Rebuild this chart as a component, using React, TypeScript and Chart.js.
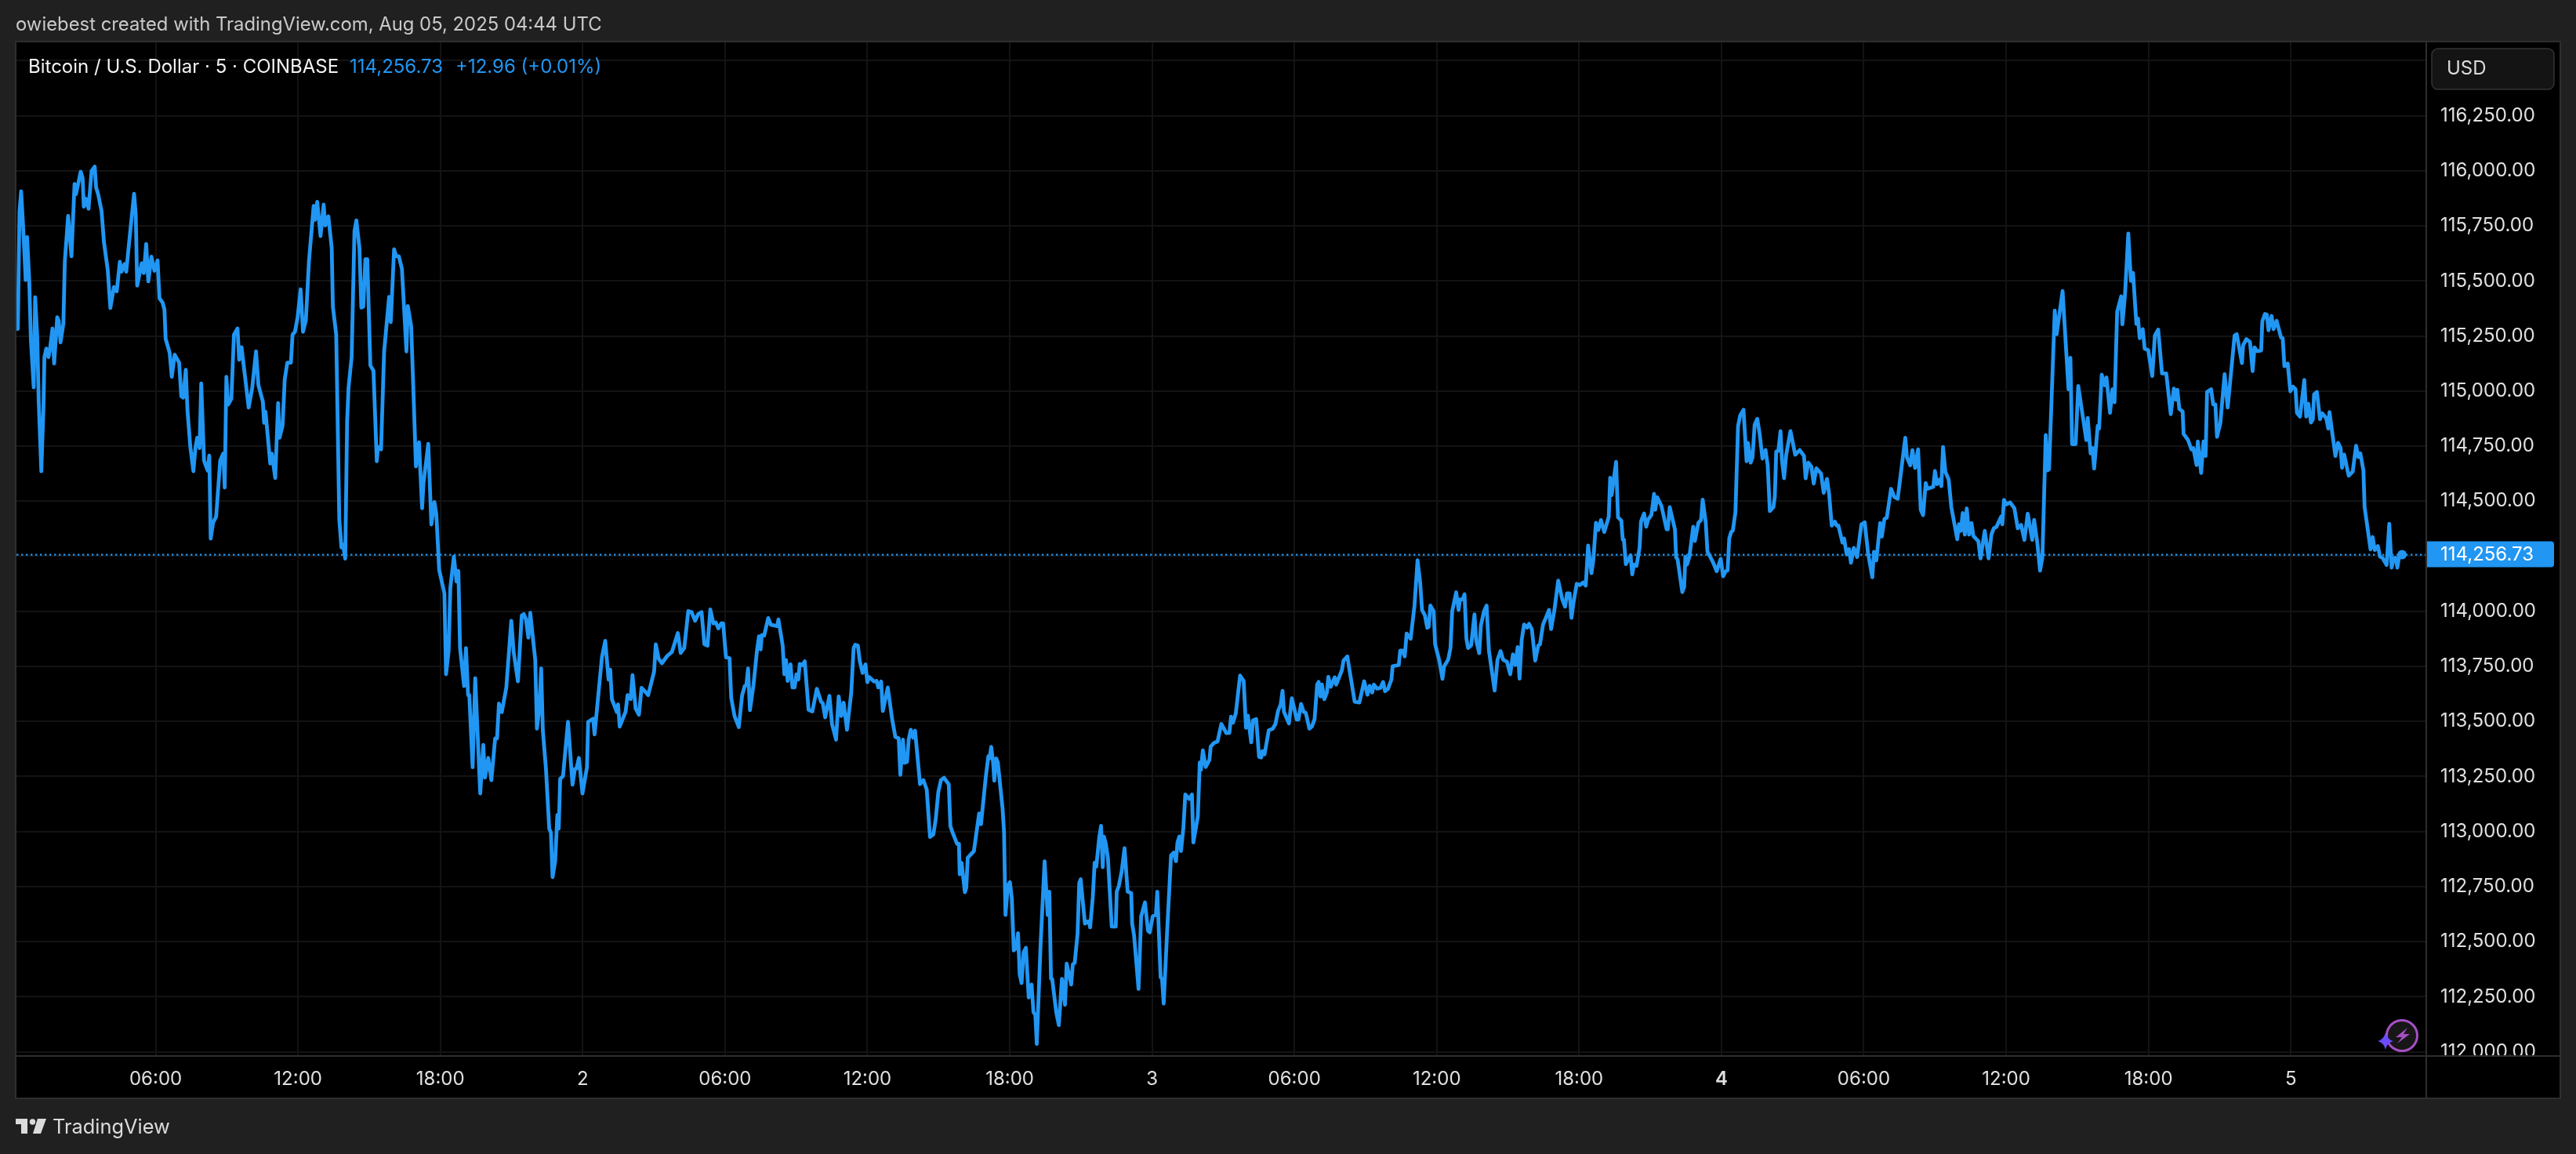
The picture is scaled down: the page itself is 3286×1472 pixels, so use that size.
import React, { useEffect, useRef } from "react";
import { Chart, registerables } from "chart.js";

Chart.register(...registerables);

// Time is hours since Aug 1 00:00 UTC; prices are USD.
const hoursA = [
  0.19,0.26,0.33,0.41,0.52,0.58,0.67,0.74,0.86,0.92,
  1.01,1.07,1.18,1.27,1.31,1.39,1.48,1.54,1.65,1.72,
  1.85,1.91,1.99,2.11,2.17,2.31,2.45,2.58,2.64,2.84,
  2.92,2.97,3.06,3.17,3.30,3.43,3.49,3.58,3.72,3.82,
  3.98,4.09,4.24,4.36,4.49,4.56,4.69,4.76,4.93,5.09,
  5.16,5.22,5.41,5.50,5.60,5.69,5.82,5.95,6.08,6.16,
  6.29,6.37,6.42,6.59,6.68,6.80,6.99,7.08,7.16,7.27,
  7.34,7.46,7.59,7.68,7.75,7.85,7.92,8.04,8.19,8.26,
  8.32,8.42,8.55,8.72,8.85,8.91,8.98,9.05,9.19,9.30,
  9.45,9.52,9.62,9.92,10.07,10.23,10.33,10.52,10.57,10.63,
  10.83,10.90,11.04,11.16,11.22,11.35,11.44,11.55,11.70,11.77,
  11.87,11.98,12.11,12.21,12.33,12.46,12.66,12.72,12.81,12.95,
  13.08,13.15,13.28,13.42,13.47,13.61,13.74,13.83,13.90,13.99,
  14.07,14.13,14.26,14.38,14.46,14.59,14.67,14.75,14.84,14.92,
  15.05,15.18,15.32,15.37,15.50,15.63,15.84,15.91,16.05,16.14,
  16.25,16.38,16.57,16.63,16.77,16.86,16.97,17.10,17.23,17.29,
  17.49,17.62,17.75,17.83,17.95,
];
const pricesA = [
  115282,115816,115907,115752,115504,115699,115504,115231,115017,115426,
  115243,114951,114636,114925,115154,115193,115154,115186,115284,115125,
  115335,115320,115221,115307,115587,115795,115612,115940,115894,115996,
  115968,115837,115873,115828,116000,116019,115924,115892,115816,115676,
  115549,115377,115472,115453,115587,115542,115577,115542,115727,115896,
  115803,115479,115580,115536,115668,115498,115610,115546,115593,115421,
  115402,115370,115237,115173,115065,115165,115129,114976,114970,115097,
  114913,114747,114636,114747,114788,114741,115034,114684,114639,114707,
  114330,114402,114430,114684,114716,114562,115065,114938,114964,115256,
  115284,115142,115199,114925,115015,115180,115027,114951,114856,114906,
  114671,114716,114605,114945,114788,114843,115053,115129,115129,115256,
  115269,115332,115462,115269,115320,115587,115841,115778,115859,115704,
  115847,115752,115793,115650,115383,115256,114417,114290,114302,114239,
  114862,115015,115154,115727,115775,115650,115379,115383,115599,115599,
  115116,115093,114681,114747,114735,115180,115428,115313,115644,115612,
  115612,115555,115180,115386,115294,115015,114658,114767,114468,114582,
  114760,114394,114496,114442,114188,
];

const hoursB = [
  18.17,18.24,18.35,18.42,18.57,18.68,18.76,18.83,19.00,19.08,
  19.17,19.22,19.36,19.47,19.68,19.81,19.88,20.02,20.15,20.31,
  20.39,20.47,20.59,20.78,20.99,21.09,21.27,21.43,21.52,21.61,
  21.71,21.79,22.00,22.07,22.17,22.25,22.32,22.45,22.59,22.66,
  22.73,22.84,22.93,22.99,23.05,23.17,23.38,23.57,23.67,23.74,
  23.84,23.99,24.18,24.23,24.44,24.50,24.81,24.95,25.09,25.16,
  25.23,25.44,25.49,25.56,25.81,25.89,26.02,26.10,26.23,26.37,
  26.48,26.62,26.76,27.01,27.08,27.20,27.34,27.56,27.76,28.01,
  28.13,28.28,28.45,28.59,28.74,28.87,29.01,29.13,29.26,29.38,
  29.51,29.61,29.72,29.84,29.92,30.04,30.19,30.26,30.40,30.58,
  30.72,30.83,30.90,30.97,31.05,31.20,31.34,31.43,31.50,31.55,
  31.65,31.82,31.93,32.20,32.25,32.43,32.50,32.57,32.64,32.76,
  32.84,32.93,33.01,33.09,33.15,33.26,33.36,33.52,33.68,33.87,
  34.05,34.12,34.22,34.40,34.51,34.68,34.79,34.90,35.00,35.14,
  35.32,35.42,35.49,35.60,35.68,35.80,35.92,36.00,36.07,36.28,
  36.39,36.46,36.58,36.65,36.86,37.04,37.18,37.32,37.39,37.50,
  37.57,37.67,37.74,37.83,37.93,38.01,38.22,38.36,38.50,38.64,
  38.78,38.88,38.99,39.10,
];
const pricesB = [
  114082,113714,113821,114106,114248,114135,114183,113833,113660,113833,
  113619,113619,113292,113696,113173,113393,113245,113334,113233,113423,
  113423,113581,113542,113654,113957,113815,113682,113981,113987,113963,
  113880,113993,113779,113467,113559,113740,113458,113286,113013,112995,
  112793,112865,113075,113013,113239,113251,113498,113213,113284,113286,
  113334,113173,113292,113498,113512,113441,113791,113866,113690,113735,
  113601,113542,113577,113476,113545,113619,113601,113710,113559,113530,
  113652,113637,113619,113726,113850,113785,113764,113797,113815,113901,
  113811,113833,114001,113996,113957,113987,113996,113850,113844,114008,
  113945,113949,113922,113945,113945,113791,113787,113607,113524,113474,
  113619,113660,113666,113740,113551,113666,113815,113886,113827,113892,
  113890,113969,113939,113933,113963,113844,113714,113779,113684,113759,
  113654,113654,113714,113690,113761,113755,113773,113553,113545,113648,
  113589,113583,113518,113616,113488,113417,113613,113524,113585,113462,
  113631,113833,113848,113844,113773,113720,113759,113678,113702,113681,
  113684,113654,113681,113547,113654,113512,113429,113423,113257,113417,
  113312,113316,113417,113462,113426,113458,113215,113233,113191,112975,
  112987,113055,113179,113233,
];

const hoursC = [
  39.23,39.43,39.50,39.61,39.78,39.86,39.89,39.97,40.11,40.17,
  40.23,40.38,40.49,40.71,40.79,40.99,41.10,41.15,41.22,41.30,
  41.35,41.43,41.50,41.70,41.76,41.82,41.92,42.01,42.09,42.17,
  42.28,42.35,42.42,42.50,42.58,42.68,42.80,42.92,43.00,43.08,
  43.14,43.30,43.47,43.60,43.67,43.74,43.79,43.96,44.07,44.20,
  44.33,44.40,44.59,44.66,44.74,44.86,44.93,44.99,45.17,45.28,
  45.33,45.39,45.50,45.58,45.65,45.77,45.85,45.92,45.97,46.05,
  46.14,46.30,46.47,46.51,46.60,46.72,46.84,46.97,47.12,47.16,
  47.24,47.43,47.54,47.70,47.83,47.90,48.03,48.16,48.22,48.36,
  48.42,48.49,48.63,48.80,48.91,49.01,49.07,49.15,49.22,49.32,
  49.40,49.57,49.68,49.74,49.93,50.01,50.06,50.14,50.26,50.42,
  50.47,50.61,50.76,50.92,51.13,51.26,51.33,51.41,51.53,51.71,
  51.86,51.96,52.04,52.10,52.18,52.25,52.39,52.51,52.60,52.65,
  52.74,52.92,53.09,53.20,53.31,53.42,53.50,53.56,53.77,53.89,
  54.10,54.17,54.28,54.39,54.48,54.63,54.74,54.85,54.96,
];
const pricesC = [
  113244,113214,113023,112990,112944,112944,112806,112858,112724,112746,
  112881,112898,112911,113082,113033,113247,113342,113332,113384,113313,
  113231,113332,113313,113102,112997,112621,112753,112770,112694,112460,
  112472,112538,112351,112312,112450,112472,112246,112305,112180,112167,
  112035,112483,112865,112621,112727,112331,112331,112180,112121,112331,
  112213,112400,112305,112397,112404,112536,112766,112783,112582,112591,
  112591,112565,112700,112858,112841,112970,113026,112838,112977,112944,
  112878,112568,112568,112727,112753,112819,112924,112727,112720,112582,
  112529,112285,112615,112678,112549,112542,112615,112621,112727,112338,
  112331,112219,112536,112891,112904,112865,112950,112977,112911,113016,
  113168,113148,113168,112950,113069,113313,113280,113368,113293,113326,
  113385,113402,113409,113488,113447,113448,113521,113494,113537,113708,
  113684,113471,113526,113471,113405,113504,113510,113339,113336,113365,
  113350,113460,113467,113488,113547,113576,113639,113543,113491,113605,
  113508,113508,113579,113543,113539,113467,113477,113510,113668,
];

const hoursD = [
  55.02,55.10,55.16,55.26,55.37,55.43,55.53,55.70,55.76,56.00,
  56.07,56.23,56.54,56.74,56.94,57.08,57.17,57.28,57.35,57.48,
  57.62,57.74,57.82,57.95,58.09,58.14,58.40,58.46,58.56,58.65,
  58.73,58.90,59.06,59.19,59.30,59.38,59.50,59.60,59.66,59.73,
  59.87,59.93,60.11,60.24,60.31,60.48,60.58,60.65,60.82,60.92,
  60.98,61.09,61.17,61.25,61.32,61.45,61.59,61.66,61.79,61.86,
  61.99,62.10,62.20,62.44,62.56,62.69,62.80,62.96,63.10,63.21,
  63.31,63.41,63.49,63.58,63.68,63.81,63.89,64.01,64.15,64.28,
  64.35,64.48,64.62,64.73,64.82,64.96,65.12,65.29,65.41,65.49,
  65.60,65.68,65.76,65.90,66.03,66.17,66.28,66.38,66.52,66.60,
  66.71,66.81,66.92,67.06,67.25,
];
const pricesD = [
  113679,113613,113667,113601,113631,113702,113657,113700,113667,113732,
  113776,113795,113589,113586,113682,113621,113661,113631,113667,113649,
  113651,113679,113637,113649,113690,113750,113756,113821,113821,113795,
  113899,113875,114024,114232,114131,114006,113982,113925,113929,114026,
  114000,113851,113774,113693,113750,113780,113833,114000,114086,114006,
  114054,114054,114077,113875,113833,113845,113986,113869,113810,113935,
  114000,114026,113821,113640,113780,113819,113780,113771,113714,113804,
  113756,113837,113694,113869,113940,113926,113943,113917,113776,113845,
  113849,113940,113976,114006,113919,114006,114139,114054,114021,114081,
  114081,113970,114036,114125,114119,114131,114117,114298,114173,114232,
  114402,114369,114414,114360,114429,
];

const hoursE = [
  67.31,67.37,67.56,67.64,67.78,67.84,67.89,67.97,68.17,68.24,
  68.31,68.42,68.55,68.61,68.74,68.83,68.91,69.05,69.16,69.21,
  69.29,69.47,69.69,69.74,69.82,70.04,70.09,70.15,70.35,70.43,
  70.48,70.55,70.65,70.81,70.88,71.03,71.14,71.21,71.34,71.41,
  71.64,71.80,71.97,72.07,72.18,72.26,72.33,72.41,72.48,72.59,
  72.70,72.79,72.93,73.06,73.12,73.23,73.31,73.40,73.51,73.61,
  73.73,73.86,73.95,74.04,74.19,74.25,74.31,74.40,74.49,74.55,
  74.64,74.73,74.91,75.11,75.30,
];
const pricesE = [
  114606,114527,114678,114426,114412,114325,114325,114214,114254,114168,
  114212,114206,114289,114408,114444,114384,114416,114438,114533,114461,
  114518,114479,114372,114372,114473,114372,114245,114236,114087,114111,
  114248,114212,114248,114384,114319,114402,114414,114507,114402,114271,
  114224,114182,114238,114159,114182,114186,114331,114360,114366,114450,
  114841,114889,114915,114681,114764,114675,114699,114847,114874,114806,
  114693,114732,114663,114455,114473,114521,114725,114729,114818,114687,
  114604,114711,114818,114711,114732,
];

const hoursF = [
  75.48,75.55,75.66,75.79,75.89,76.00,76.20,76.31,76.45,76.54,
  76.65,76.78,76.86,76.93,77.10,77.17,77.28,77.38,77.46,77.58,
  77.72,77.90,78.04,78.18,78.36,78.43,78.53,78.69,78.76,78.87,
  78.97,79.15,79.29,79.43,79.75,79.82,79.96,80.05,80.16,80.29,
  80.40,80.50,80.61,80.68,80.93,81.00,81.09,81.20,81.27,81.34,
  81.44,81.58,81.69,81.94,82.01,82.09,82.17,82.26,82.34,82.44,
  82.54,82.62,82.83,82.92,83.10,83.26,83.38,83.48,83.59,83.80,
  83.84,83.91,84.01,84.17,84.35,84.49,84.63,84.77,84.91,85.10,
  85.18,85.32,85.43,85.53,85.67,85.74,85.81,
];
const pricesF = [
  114705,114604,114675,114657,114580,114649,114625,114538,114601,114532,
  114389,114407,114389,114389,114312,114330,114258,114282,114220,114288,
  114246,114395,114404,114264,114154,114270,114231,114401,114339,114419,
  114425,114556,114518,114511,114788,114699,114663,114732,114651,114735,
  114461,114437,114582,114556,114565,114637,114577,114598,114568,114746,
  114633,114598,114473,114327,114395,114365,114446,114348,114467,114348,
  114401,114342,114318,114240,114365,114240,114348,114377,114383,114431,
  114395,114506,114485,114494,114467,114377,114392,114324,114443,114324,
  114415,114306,114185,114246,114800,114639,114645,
];

const hoursG = [
  86.05,86.13,86.38,86.63,86.71,86.78,86.93,87.04,87.25,87.38,
  87.44,87.56,87.64,87.71,87.86,87.92,88.03,88.16,88.23,88.38,
  88.48,88.57,88.68,88.85,88.90,89.01,89.15,89.26,89.35,89.49,
  89.56,89.63,89.76,89.84,89.99,90.16,90.27,90.41,90.57,90.75,
  90.94,91.07,91.16,91.22,91.30,91.44,91.48,91.67,91.81,91.89,
  92.03,92.08,92.22,92.32,92.41,92.47,92.64,92.73,92.82,92.89,
  93.03,93.21,93.34,93.63,93.72,93.94,93.99,94.13,94.28,94.39,
  94.47,94.58,94.75,94.80,94.91,94.99,95.06,95.19,95.27,95.40,
  95.59,95.66,95.73,95.87,95.98,96.09,96.20,96.26,96.39,96.57,
  96.65,96.74,96.85,96.93,96.98,97.10,97.23,97.32,97.49,97.58,
  97.63,97.88,97.99,98.10,98.16,98.25,98.44,98.61,98.75,98.85,
  98.93,99.06,99.11,99.36,99.45,99.54,99.67,99.76,99.87,100.04,
  100.15,100.25,100.34,100.43,100.49,100.57,100.69,
];
const pricesG = [
  115365,115258,115454,115008,115151,114759,114759,115023,114872,114777,
  114878,114717,114741,114648,114842,114830,115074,115026,115062,114901,
  115008,114949,115359,115430,115303,115436,115715,115501,115537,115305,
  115329,115240,115281,115192,115186,115068,115252,115279,115080,115080,
  114895,115011,114961,115006,114919,114907,114806,114777,114735,114741,
  114664,114771,114628,114771,114705,114996,115008,114939,114939,114792,
  114854,115077,114925,115252,115258,115127,115208,115236,115222,115091,
  115198,115181,115184,115317,115350,115347,115276,115341,115281,115319,
  115243,115240,115113,115125,114999,115020,115008,114901,114884,115050,
  114884,114943,114857,114872,114985,114996,114872,114899,114878,114830,
  114904,114705,114765,114741,114652,114711,114616,114634,114751,114700,
  114717,114640,114474,114281,114337,114278,114296,114248,114242,114210,
  114397,114198,114242,114242,114198,114251,114256.73,
];

const yTickValues = [
  116500,116250,116000,115750,115500,115250,115000,114750,114500,
  114250,114000,113750,113500,113250,113000,112750,112500,112250,112000,
];
const yTickLabels = [
  "", "116,250.00","116,000.00","115,750.00","115,500.00","115,250.00","115,000.00",
  "114,750.00","114,500.00","114,250.00","114,000.00","113,750.00","113,500.00",
  "113,250.00","113,000.00","112,750.00","112,500.00","112,250.00","112,000.00",
];
const xTickHours = [6,12,18,24,30,36,42,48,54,60,66,72,78,84,90,96];
const xTickLabels = [
  "06:00","12:00","18:00","2","06:00","12:00","18:00","3",
  "06:00","12:00","18:00","4","06:00","12:00","18:00","5",
];

const headerText = "owiebest created with TradingView.com, Aug 05, 2025 04:44 UTC";
const symbolText = "Bitcoin / U.S. Dollar · 5 · COINBASE";
const lastPriceText = "114,256.73";
const changeText = "+12.96 (+0.01%)";
const currencyText = "USD";
const brandText = "TradingView";
const lastPrice = 114256.73;

const hours = [...hoursA, ...hoursB, ...hoursC, ...hoursD, ...hoursE, ...hoursF, ...hoursG];
const prices = [...pricesA, ...pricesB, ...pricesC, ...pricesD, ...pricesE, ...pricesF, ...pricesG];

const FONT = "Inter, 'Noto Sans', sans-serif";
const BLUE = "#2196f3";
const W = 3286;
const H = 1472;
const PLOT = { left: 21, top: 53, right: 3095, bottom: 1347, outerRight: 3266, outerBottom: 1401 };

const xMin = 0.132;
const xMax = 101.71;
const yMin = 111980.5;
const yMax = 116587;

const frame = {
  id: "frame",
  beforeDraw(chart: any) {
    const c = chart.ctx;
    c.save();
    c.fillStyle = "#202020";
    c.fillRect(0, 0, W, H);
    c.fillStyle = "#000";
    c.fillRect(PLOT.left, PLOT.top, PLOT.outerRight - PLOT.left, PLOT.outerBottom - PLOT.top);
    c.restore();
  },
  afterDraw(chart: any) {
    const c = chart.ctx;
    c.save();
    // price-axis label is cut by the time axis
    c.fillStyle = "#000";
    c.fillRect(PLOT.right + 2, PLOT.bottom, PLOT.outerRight - PLOT.right - 4, 14);

    c.strokeStyle = "#2e2e2e";
    c.lineWidth = 2;
    c.strokeRect(PLOT.left - 1, PLOT.top, PLOT.outerRight - PLOT.left + 1, PLOT.outerBottom - PLOT.top);
    c.beginPath();
    c.moveTo(PLOT.left, PLOT.bottom);
    c.lineTo(PLOT.outerRight, PLOT.bottom);
    c.moveTo(PLOT.right, PLOT.top);
    c.lineTo(PLOT.right, PLOT.outerBottom);
    c.stroke();

    // header
    c.textBaseline = "middle";
    c.textAlign = "left";
    c.font = `400 23.85px ${FONT}`;
    c.fillStyle = "#c9c9c9";
    c.fillText(headerText, 20, 32);
    c.font = `400 24px ${FONT}`;
    c.fillStyle = "#f2f2f2";
    c.fillText(symbolText, 36, 86);
    c.fillStyle = BLUE;
    c.fillText(lastPriceText, 446, 86);
    c.fillText(changeText, 581, 86);

    // currency box
    c.fillStyle = "#141414";
    c.strokeStyle = "#333";
    c.lineWidth = 1.5;
    c.beginPath();
    c.roundRect(3102, 62, 156, 52, 8);
    c.fill();
    c.stroke();
    c.fillStyle = "#dbdbdb";
    c.font = `400 24px ${FONT}`;
    c.fillText(currencyText, 3121, 88);

    // last price tag
    const y = chart.scales.y.getPixelForValue(lastPrice);
    c.fillStyle = BLUE;
    c.beginPath();
    c.roundRect(PLOT.right + 1, y - 17, 162, 33, [0, 4, 4, 0]);
    c.fill();
    c.fillStyle = "#fff";
    c.fillText(lastPriceText, 3113, y);

    // logo
    c.fillStyle = "#dbdbdb";
    c.beginPath();
    c.moveTo(20, 1427);
    c.lineTo(35, 1427);
    c.lineTo(35, 1446);
    c.lineTo(27, 1446);
    c.lineTo(27, 1434);
    c.lineTo(20, 1434);
    c.closePath();
    c.fill();
    c.beginPath();
    c.arc(41.5, 1431, 3.7, 0, Math.PI * 2);
    c.fill();
    c.beginPath();
    c.moveTo(48, 1427);
    c.lineTo(59, 1427);
    c.lineTo(52, 1446);
    c.lineTo(42, 1446);
    c.closePath();
    c.fill();
    c.font = `400 25.4px ${FONT}`;
    c.fillStyle = "#dbdbdb";
    c.fillText(brandText, 67, 1438);

    // flash badge
    c.strokeStyle = "#a64fc4";
    c.lineWidth = 3;
    c.fillStyle = "#171717";
    c.beginPath();
    c.arc(3064, 1321, 19.5, 0, Math.PI * 2);
    c.fill();
    c.beginPath();
    c.arc(3064, 1321, 19.5, Math.PI * 0.72, Math.PI * 2.98 );
    c.stroke();
    c.fillStyle = "#a64fc4";
    c.beginPath();
    c.moveTo(3071, 1311);
    c.lineTo(3056, 1323);
    c.lineTo(3064, 1323);
    c.lineTo(3058, 1331);
    c.lineTo(3074, 1319);
    c.lineTo(3066, 1319);
    c.closePath();
    c.fill();
    c.fillStyle = "#6a4bff";
    c.beginPath();
    c.moveTo(3043, 1317);
    c.quadraticCurveTo(3045, 1326, 3053, 1328);
    c.quadraticCurveTo(3045, 1330, 3043, 1339);
    c.quadraticCurveTo(3041, 1330, 3033, 1328);
    c.quadraticCurveTo(3041, 1326, 3043, 1317);
    c.closePath();
    c.fill();
    c.restore();
  },
};

export default function App() {
  const ref = useRef<HTMLCanvasElement>(null);
  useEffect(() => {
    document.body.style.margin = "0";
    document.body.style.background = "#202020";
    const lastIndex = hours.length - 1;
    const chart = new Chart(ref.current as HTMLCanvasElement, {
      type: "line",
      data: {
        datasets: [
          {
            label: "Last price",
            data: [
              { x: xMin, y: lastPrice },
              { x: xMax, y: lastPrice },
            ],
            borderColor: BLUE,
            borderWidth: 2.4,
            borderDash: [2.4, 3.6],
            pointRadius: 0,
            order: 2,
          },
          {
            label: "Bitcoin / U.S. Dollar",
            data: hours.map((h, i) => ({ x: h, y: prices[i] })),
            borderColor: BLUE,
            backgroundColor: BLUE,
            borderWidth: 4.8,
            borderJoinStyle: "round",
            borderCapStyle: "round",
            tension: 0,
            pointBorderWidth: 0,
            pointRadius: (ctx: any) => (ctx.dataIndex === lastIndex ? 6 : 0),
            order: 1,
          },
        ],
      },
      options: {
        responsive: false,
        devicePixelRatio: 1,
        animation: false,
        layout: {
          padding: { left: PLOT.left, top: PLOT.top, right: W - PLOT.outerRight, bottom: H - PLOT.outerBottom },
        },
        plugins: { legend: { display: false }, tooltip: { enabled: false } },
        scales: {
          x: {
            type: "linear",
            min: xMin,
            max: xMax,
            afterBuildTicks: (s: any) => {
              s.ticks = xTickHours.map((v) => ({ value: v }));
            },
            afterFit: (s: any) => {
              s.height = PLOT.outerBottom - PLOT.bottom;
            },
            border: { display: false },
            grid: { color: "#131313", lineWidth: 2, drawTicks: false },
            ticks: {
              color: "#e0e0e0",
              padding: 15,
              autoSkip: false,
              maxRotation: 0,
              font: (ctx: any) => ({
                family: FONT,
                size: 24,
                weight: ctx.tick && ctx.tick.value === 72 ? "600" : "400",
              }),
              callback: (_v: any, i: number) => xTickLabels[i],
            },
          },
          y: {
            type: "linear",
            position: "right",
            min: yMin,
            max: yMax,
            afterBuildTicks: (s: any) => {
              s.ticks = yTickValues.map((v) => ({ value: v }));
            },
            afterFit: (s: any) => {
              s.width = PLOT.outerRight - PLOT.right;
            },
            border: { display: false },
            grid: { color: "#131313", lineWidth: 2, drawTicks: false },
            ticks: {
              color: "#e0e0e0",
              padding: 18,
              autoSkip: false,
              font: { family: FONT, size: 24 },
              callback: (_v: any, i: number) => yTickLabels[i],
            },
          },
        },
      },
      plugins: [frame],
    } as any);
    return () => chart.destroy();
  }, []);
  return <canvas ref={ref} width={W} height={H} style={{ display: "block", width: W, height: H }} />;
}
